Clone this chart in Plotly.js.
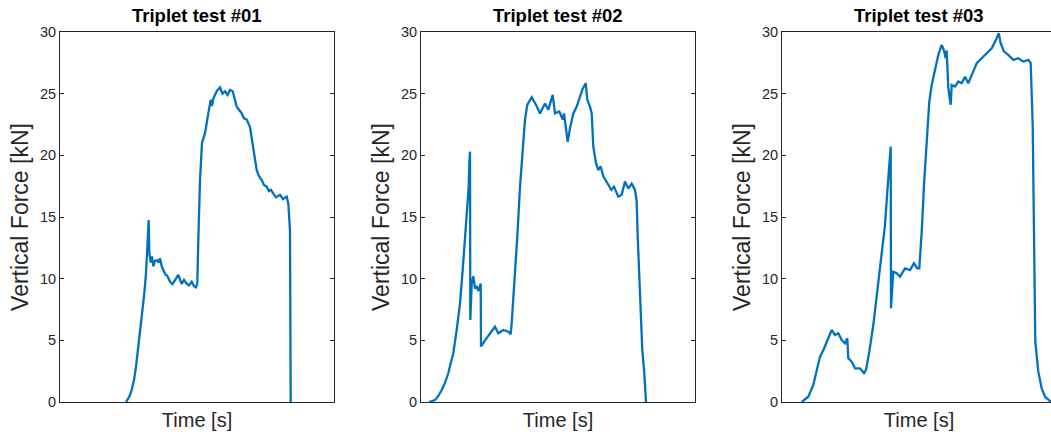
<!DOCTYPE html>
<html>
<head>
<meta charset="utf-8">
<script src="https://cdn.plot.ly/plotly-3.0.1.min.js"></script>
<style>
  html, body { margin: 0; padding: 0; overflow: hidden; background: #ffffff; }
  #chart { width: 1056px; height: 439px; }
</style>
</head>
<body>
<div id="chart"></div>
<script>
// ---- Data (time in arbitrary seconds, force in kN) ----
const titles = ["Triplet test #01", "Triplet test #02", "Triplet test #03"];
const yTickVals = [0, 5, 10, 15, 20, 25, 30];
const yTickText = ["0", "5", "10", "15", "20", "25", "30"];

const t1 = [6.60, 6.93, 7.17, 7.40, 7.60, 7.83, 8.07, 8.27, 8.43, 8.60, 8.73, 8.87, 8.93, 9.07, 9.20, 9.33, 9.50, 9.67, 9.85, 10.00, 10.17, 10.50, 10.75, 11.00, 11.25, 11.50, 11.83, 12.17, 12.40, 12.67, 12.90, 13.17, 13.40, 13.60, 13.73, 13.83, 14.00, 14.20, 14.50, 14.83, 15.07, 15.20, 15.33, 15.67, 16.00, 16.25, 16.50, 16.75, 17.00, 17.27, 17.67, 17.90, 18.17, 18.40, 18.67, 19.00, 19.33, 19.67, 19.90, 20.17, 20.40, 20.67, 20.90, 21.10, 21.33, 21.60, 22.00, 22.30, 22.67, 22.83, 23.00, 23.07];
const f1 = [0.00, 0.43, 0.97, 1.78, 2.86, 4.49, 6.11, 7.46, 8.81, 10.44, 12.33, 14.76, 12.10, 11.30, 11.80, 11.00, 11.45, 11.50, 11.30, 11.65, 11.00, 10.40, 10.20, 9.76, 9.55, 9.90, 10.30, 9.57, 9.90, 9.60, 9.45, 9.75, 9.40, 9.30, 9.60, 13.10, 18.00, 21.00, 21.80, 23.40, 24.50, 24.00, 24.60, 25.20, 25.50, 25.00, 25.20, 24.90, 25.30, 25.20, 23.95, 23.70, 23.40, 23.00, 22.90, 22.30, 20.70, 18.80, 18.30, 18.00, 17.60, 17.46, 17.10, 17.20, 16.90, 16.60, 16.80, 16.45, 16.65, 16.10, 13.90, 0.00];

const t2 = [0.83, 1.40, 1.73, 2.07, 2.40, 2.73, 2.97, 3.23, 3.57, 3.90, 4.17, 4.40, 4.63, 4.77, 4.83, 4.90, 4.93, 5.07, 5.23, 5.40, 5.57, 5.73, 5.97, 6.00, 6.40, 6.90, 7.40, 7.73, 8.23, 8.73, 8.97, 9.07, 9.40, 9.63, 9.90, 10.23, 10.40, 10.63, 11.07, 11.50, 11.90, 12.40, 12.73, 13.17, 13.40, 13.83, 14.17, 14.30, 14.50, 14.67, 14.90, 15.23, 15.57, 15.90, 16.17, 16.47, 16.63, 16.90, 17.07, 17.23, 17.50, 17.73, 17.97, 18.23, 18.63, 19.03, 19.30, 19.73, 20.07, 20.40, 20.73, 21.07, 21.40, 21.57, 21.67, 21.90, 22.13, 22.33, 22.50];
const f2 = [0.00, 0.16, 0.49, 0.97, 1.57, 2.33, 3.14, 3.95, 5.84, 8.00, 10.70, 13.40, 15.60, 17.46, 19.36, 20.30, 6.65, 9.60, 10.20, 9.20, 9.40, 9.00, 9.60, 4.50, 5.00, 5.57, 6.10, 5.57, 5.84, 5.70, 5.50, 6.40, 10.16, 13.40, 17.46, 20.70, 22.90, 24.10, 24.70, 24.10, 23.40, 24.20, 23.70, 24.90, 23.40, 23.55, 22.90, 23.40, 21.90, 21.10, 22.20, 23.40, 23.95, 24.76, 25.40, 25.85, 24.50, 23.95, 23.40, 20.70, 19.36, 18.80, 19.10, 18.30, 17.70, 17.20, 17.46, 16.65, 16.80, 17.87, 17.30, 17.70, 17.20, 16.25, 13.40, 8.54, 4.20, 2.33, 0.00];

const t3 = [1.97, 2.63, 3.13, 3.47, 3.80, 4.13, 4.47, 4.97, 5.30, 5.63, 5.97, 6.30, 6.53, 6.63, 6.97, 7.30, 7.80, 8.20, 8.40, 8.73, 9.13, 9.53, 9.97, 10.30, 10.53, 10.73, 10.87, 10.90, 11.13, 11.47, 11.80, 12.30, 12.80, 13.20, 13.53, 13.73, 13.97, 14.20, 14.47, 14.73, 14.97, 15.30, 15.63, 15.97, 16.20, 16.37, 16.47, 16.63, 16.87, 16.97, 17.30, 17.63, 17.97, 18.30, 18.63, 18.97, 19.47, 19.97, 20.47, 20.97, 21.40, 21.67, 21.87, 22.20, 22.63, 23.13, 23.63, 24.13, 24.63, 24.87, 25.07, 25.20, 25.33, 25.63, 25.97, 26.30, 26.80, 27.40];
const f3 = [0.00, 0.43, 1.38, 2.46, 3.67, 4.20, 4.90, 5.84, 5.43, 5.57, 5.03, 4.76, 5.17, 3.54, 3.27, 2.73, 2.73, 2.33, 2.60, 4.08, 6.24, 8.95, 11.65, 14.35, 17.06, 18.95, 20.70, 7.60, 10.57, 10.44, 10.16, 10.84, 10.70, 11.25, 10.84, 10.84, 13.80, 17.60, 21.40, 24.36, 25.70, 27.07, 28.14, 28.95, 28.50, 27.87, 28.50, 25.44, 24.10, 25.70, 25.57, 25.98, 25.85, 26.38, 25.85, 26.50, 27.47, 27.87, 28.28, 28.68, 29.36, 29.90, 29.09, 28.41, 28.14, 27.74, 27.87, 27.60, 27.74, 27.47, 22.46, 14.35, 4.90, 2.46, 1.11, 0.43, 0.08, 0.00];

const times = [t1, t2, t3];
const forces = [f1, f2, f3];

// ---- Layout geometry ----
const W = 1056, H = 439;
const px = [[60, 334], [421, 695], [782, 1056]];
const yDom = [(H - 402) / H, (H - 32) / H];
const axisColor = "#262626";
const lineColor = "#0072BD";

const data = [];
const layout = {
  width: W, height: H,
  margin: {l: 0, r: 0, t: 0, b: 0, pad: 0},
  paper_bgcolor: "#ffffff",
  plot_bgcolor: "#ffffff",
  showlegend: false,
  font: {family: "Liberation Sans, Arial, sans-serif", color: axisColor},
  annotations: []
};

for (let i = 0; i < 3; i++) {
  const s = i === 0 ? "" : String(i + 1);
  data.push({
    type: "scatter", mode: "lines",
    x: times[i], y: forces[i],
    xaxis: "x" + s, yaxis: "y" + s,
    line: {color: lineColor, width: 2.3},
    hoverinfo: "skip"
  });
  layout["xaxis" + s] = {
    domain: [px[i][0] / W, px[i][1] / W],
    anchor: "y" + s,
    range: [0, 27.4],
    showgrid: false, zeroline: false,
    showticklabels: false, ticks: "",
    showline: true, mirror: true, linecolor: axisColor, linewidth: 1,
    title: {text: "Time [s]", font: {size: 20, color: axisColor}, standoff: 10}
  };
  layout["yaxis" + s] = {
    domain: yDom,
    anchor: "x" + s,
    range: [0, 30],
    tickmode: "array", tickvals: yTickVals, ticktext: yTickText,
    showgrid: false, zeroline: false,
    ticks: "inside", ticklen: 4, tickwidth: 1, tickcolor: axisColor,
    showline: true, mirror: "ticks", linecolor: axisColor, linewidth: 1,
    tickfont: {size: 14.5, color: axisColor},
    title: {text: "Vertical Force [kN]", font: {size: 23, color: axisColor}, standoff: 4}
  };
  layout.annotations.push({
    text: "<b>" + titles[i] + "</b>",
    xref: "paper", yref: "paper",
    x: (px[i][0] + px[i][1]) / 2 / W, y: (H - 16) / H,
    xanchor: "center", yanchor: "middle",
    showarrow: false,
    font: {size: 18.5, color: "#000000"}
  });
}

Plotly.newPlot("chart", data, layout, {staticPlot: true, displayModeBar: false});
</script>
</body>
</html>
